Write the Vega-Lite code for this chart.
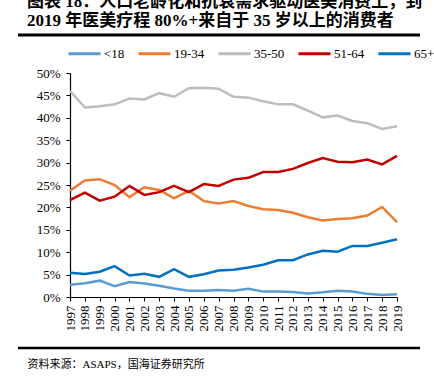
{
  "$schema": "https://vega.github.io/schema/vega-lite/v6.json",
  "autosize": "none",
  "width": 327,
  "height": 224,
  "padding": {"left": 70, "top": 73, "right": 37, "bottom": 85},
  "background": "white",
  "title": {
    "text": ["图表 18：人口老龄化和抗衰需求驱动医美消费上，到", "2019 年医美疗程 80%+来自于 35 岁以上的消费者"],
    "font": "Times New Roman, Liberation Serif, Noto Sans CJK SC",
    "fontSize": 17,
    "fontWeight": "bold",
    "color": "black",
    "anchor": "start",
    "frame": "group",
    "dx": -43,
    "offset": 3,
    "lineHeight": 19
  },
  "config": {
    "view": {"stroke": null},
    "axis": {
      "grid": false,
      "domainColor": "black",
      "tickColor": "black",
      "labelColor": "black",
      "labelFont": "Times New Roman, Liberation Serif, serif",
      "labelFontSize": 13,
      "tickSize": 4,
      "domainWidth": 1.2
    },
    "legend": {
      "orient": "none",
      "direction": "horizontal",
      "legendX": -3,
      "legendY": -37,
      "symbolType": "stroke",
      "symbolSize": 1024,
      "symbolStrokeWidth": 3,
      "labelFont": "Times New Roman, Liberation Serif, serif",
      "labelFontSize": 13,
      "labelColor": "black",
      "labelOffset": 2,
      "columnPadding": 7,
      "title": null
    }
  },
  "resolve": {"axis": {"x": "independent", "y": "independent"}},
  "data": {
    "values": [
      {"year":1997,"group":"<18","value":2.75},{"year":1998,"group":"<18","value":3.05},{"year":1999,"group":"<18","value":3.65},{"year":2000,"group":"<18","value":2.4},{"year":2001,"group":"<18","value":3.35},{"year":2002,"group":"<18","value":3.0},{"year":2003,"group":"<18","value":2.5},{"year":2004,"group":"<18","value":1.9},{"year":2005,"group":"<18","value":1.4},{"year":2006,"group":"<18","value":1.4},{"year":2007,"group":"<18","value":1.55},{"year":2008,"group":"<18","value":1.4},{"year":2009,"group":"<18","value":1.85},{"year":2010,"group":"<18","value":1.2},{"year":2011,"group":"<18","value":1.2},{"year":2012,"group":"<18","value":1.1},{"year":2013,"group":"<18","value":0.8},{"year":2014,"group":"<18","value":1.05},{"year":2015,"group":"<18","value":1.4},{"year":2016,"group":"<18","value":1.25},{"year":2017,"group":"<18","value":0.7},{"year":2018,"group":"<18","value":0.45},{"year":2019,"group":"<18","value":0.6},
      {"year":1997,"group":"19-34","value":23.7},{"year":1998,"group":"19-34","value":26.0},{"year":1999,"group":"19-34","value":26.3},{"year":2000,"group":"19-34","value":25.0},{"year":2001,"group":"19-34","value":22.3},{"year":2002,"group":"19-34","value":24.5},{"year":2003,"group":"19-34","value":23.9},{"year":2004,"group":"19-34","value":22.0},{"year":2005,"group":"19-34","value":23.7},{"year":2006,"group":"19-34","value":21.4},{"year":2007,"group":"19-34","value":20.9},{"year":2008,"group":"19-34","value":21.4},{"year":2009,"group":"19-34","value":20.3},{"year":2010,"group":"19-34","value":19.6},{"year":2011,"group":"19-34","value":19.4},{"year":2012,"group":"19-34","value":18.8},{"year":2013,"group":"19-34","value":17.8},{"year":2014,"group":"19-34","value":17.1},{"year":2015,"group":"19-34","value":17.4},{"year":2016,"group":"19-34","value":17.6},{"year":2017,"group":"19-34","value":18.2},{"year":2018,"group":"19-34","value":20.1},{"year":2019,"group":"19-34","value":16.7},
      {"year":1997,"group":"35-50","value":46.0},{"year":1998,"group":"35-50","value":42.3},{"year":1999,"group":"35-50","value":42.6},{"year":2000,"group":"35-50","value":43.0},{"year":2001,"group":"35-50","value":44.3},{"year":2002,"group":"35-50","value":44.1},{"year":2003,"group":"35-50","value":45.5},{"year":2004,"group":"35-50","value":44.7},{"year":2005,"group":"35-50","value":46.6},{"year":2006,"group":"35-50","value":46.7},{"year":2007,"group":"35-50","value":46.5},{"year":2008,"group":"35-50","value":44.7},{"year":2009,"group":"35-50","value":44.5},{"year":2010,"group":"35-50","value":43.7},{"year":2011,"group":"35-50","value":43.0},{"year":2012,"group":"35-50","value":43.0},{"year":2013,"group":"35-50","value":41.6},{"year":2014,"group":"35-50","value":40.1},{"year":2015,"group":"35-50","value":40.5},{"year":2016,"group":"35-50","value":39.3},{"year":2017,"group":"35-50","value":38.8},{"year":2018,"group":"35-50","value":37.5},{"year":2019,"group":"35-50","value":38.1},
      {"year":1997,"group":"51-64","value":21.65},{"year":1998,"group":"51-64","value":23.3},{"year":1999,"group":"51-64","value":21.5},{"year":2000,"group":"51-64","value":22.4},{"year":2001,"group":"51-64","value":24.8},{"year":2002,"group":"51-64","value":22.8},{"year":2003,"group":"51-64","value":23.4},{"year":2004,"group":"51-64","value":24.8},{"year":2005,"group":"51-64","value":23.4},{"year":2006,"group":"51-64","value":25.2},{"year":2007,"group":"51-64","value":24.8},{"year":2008,"group":"51-64","value":26.2},{"year":2009,"group":"51-64","value":26.6},{"year":2010,"group":"51-64","value":27.9},{"year":2011,"group":"51-64","value":27.9},{"year":2012,"group":"51-64","value":28.6},{"year":2013,"group":"51-64","value":29.9},{"year":2014,"group":"51-64","value":31.0},{"year":2015,"group":"51-64","value":30.2},{"year":2016,"group":"51-64","value":30.1},{"year":2017,"group":"51-64","value":30.7},{"year":2018,"group":"51-64","value":29.6},{"year":2019,"group":"51-64","value":31.5},
      {"year":1997,"group":"65+","value":5.4},{"year":1998,"group":"65+","value":5.15},{"year":1999,"group":"65+","value":5.65},{"year":2000,"group":"65+","value":6.9},{"year":2001,"group":"65+","value":4.8},{"year":2002,"group":"65+","value":5.2},{"year":2003,"group":"65+","value":4.5},{"year":2004,"group":"65+","value":6.2},{"year":2005,"group":"65+","value":4.5},{"year":2006,"group":"65+","value":5.1},{"year":2007,"group":"65+","value":5.9},{"year":2008,"group":"65+","value":6.1},{"year":2009,"group":"65+","value":6.6},{"year":2010,"group":"65+","value":7.2},{"year":2011,"group":"65+","value":8.2},{"year":2012,"group":"65+","value":8.2},{"year":2013,"group":"65+","value":9.5},{"year":2014,"group":"65+","value":10.3},{"year":2015,"group":"65+","value":10.1},{"year":2016,"group":"65+","value":11.4},{"year":2017,"group":"65+","value":11.4},{"year":2018,"group":"65+","value":12.1},{"year":2019,"group":"65+","value":12.9}
    ]
  },
  "layer": [
    {
      "mark": {"type": "line", "strokeWidth": 2.5, "clip": false},
      "encoding": {
        "x": {
          "field": "year",
          "type": "quantitative",
          "scale": {"domain": [1997, 2019], "nice": false, "zero": false},
          "axis": {
            "values": [1997,1998,1999,2000,2001,2002,2003,2004,2005,2006,2007,2008,2009,2010,2011,2012,2013,2014,2015,2016,2017,2018,2019],
            "format": "d",
            "labelAngle": -90,
            "labelPadding": 4,
            "labelFlush": false,
            "labelOverlap": false,
            "labelBound": false,
            "title": "资料来源：ASAPS，国海证券研究所",
            "titleFont": "Times New Roman, Liberation Serif, Noto Sans CJK SC",
            "titleFontSize": 11,
            "titleFontWeight": "normal",
            "titleColor": "black",
            "titleX": -43,
            "titleY": 70,
            "titleAlign": "left",
            "titleBaseline": "alphabetic",
            "titleAnchor": "start"
          }
        },
        "y": {
          "field": "value",
          "type": "quantitative",
          "scale": {"domain": [0, 50], "nice": false},
          "axis": {
            "values": [0,5,10,15,20,25,30,35,40,45,50],
            "labelExpr": "datum.value + '%'",
            "labelPadding": 6,
            "title": null
          }
        },
        "color": {
          "field": "group",
          "type": "nominal",
          "sort": ["<18","19-34","35-50","51-64","65+"],
          "scale": {
            "domain": ["<18","19-34","35-50","51-64","65+"],
            "range": ["#5B9BD5","#ED7D31","#BDBDBD","#C00000","#0070C0"]
          }
        }
      }
    },
    {
      "data": {"values": [{}]},
      "mark": {"type": "rule", "color": "black", "strokeWidth": 3},
      "encoding": {
        "x": {"datum": 1993.5, "type": "quantitative", "axis": null},
        "x2": {"datum": 2020.55},
        "y": {"datum": 58.5, "type": "quantitative", "axis": null}
      }
    },
    {
      "data": {"values": [{}]},
      "mark": {"type": "rule", "color": "black", "strokeWidth": 2.5},
      "encoding": {
        "x": {"datum": 1993.5, "type": "quantitative", "axis": null},
        "x2": {"datum": 2020.55},
        "y": {"datum": -11.4, "type": "quantitative", "axis": null}
      }
    }
  ]
}
